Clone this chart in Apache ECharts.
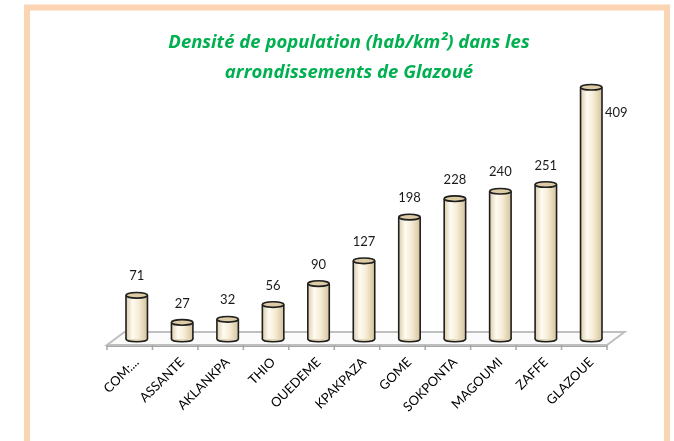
<!DOCTYPE html>
<html>
<head>
<meta charset="utf-8">
<script src="https://cdn.jsdelivr.net/npm/echarts@6/dist/echarts.min.js"></script>
<style>
  html, body { margin: 0; padding: 0; background: #fff; }
  #chart { width: 674px; height: 441px; }
</style>
</head>
<body>
<div id="chart"></div>
<script>
// Arrondissements de Glazoué et densité (hab/km²)
const categories = ['COM:...', 'ASSANTE', 'AKLANKPA', 'THIO', 'OUEDEME', 'KPAKPAZA',
                    'GOME', 'SOKPONTA', 'MAGOUMI', 'ZAFFE', 'GLAZOUE'];
const densities = [71, 27, 32, 56, 90, 127, 198, 228, 240, 251, 409];
const titleLines = ['Densité de population (hab/km²) dans les', 'arrondissements de Glazoué'];
const yMax = 450;

const FONT = 'Lato, "Open Sans", sans-serif';
const TITLE_FONT = '"Open Sans", Lato, sans-serif';
const DEPTH_X = 17.5;   // horizontal depth of the 3D floor
const DEPTH_Y = 13;     // vertical depth of the 3D floor
const SHIFT = 7;        // bars sit halfway into the floor depth

const chart = echarts.init(document.getElementById('chart'), null, { renderer: 'canvas' });

function cylinder(params, api) {
  const i = api.value(0);
  const v = api.value(1);
  const top = api.coord([i, v]);
  const base = api.coord([i, 0]);
  const bw = api.size([1, 0])[0];
  const cx = top[0];
  const rx = bw * 0.236;
  const ry = 2.8;
  const outline = '#1e1e1e';
  const body = new echarts.graphic.LinearGradient(0, 0, 1, 0, [
    { offset: 0, color: '#DCCDAA' },
    { offset: 0.3, color: '#FFFBF2' },
    { offset: 0.6, color: '#F6ECD5' },
    { offset: 1, color: '#D4C39C' }
  ]);
  const children = [
    { type: 'ellipse', shape: { cx: cx, cy: base[1], rx: rx, ry: ry },
      style: { fill: '#E6D9BB', stroke: outline, lineWidth: 1.6 } },
    { type: 'rect', shape: { x: cx - rx, y: top[1], width: rx * 2, height: base[1] - top[1] },
      style: { fill: body } },
    { type: 'line', shape: { x1: cx - rx, y1: top[1], x2: cx - rx, y2: base[1] },
      style: { stroke: outline, lineWidth: 1.6 } },
    { type: 'line', shape: { x1: cx + rx, y1: top[1], x2: cx + rx, y2: base[1] },
      style: { stroke: outline, lineWidth: 1.6 } },
    { type: 'ellipse', shape: { cx: cx, cy: top[1], rx: rx, ry: ry },
      style: { fill: '#DCCBA5', stroke: outline, lineWidth: 1.6 } }
  ];
  // value label: above the cylinder, or beside it when there is no room above
  const roomAbove = top[1] - 30 >= params.coordSys.y;
  children.push({
    type: 'text',
    style: {
      text: String(v),
      x: roomAbove ? cx : cx + rx + 3,
      y: roomAbove ? top[1] - 19 : top[1] + 26,
      align: roomAbove ? 'center' : 'left',
      verticalAlign: 'middle',
      fill: '#1a1a1a',
      font: '13px ' + FONT
    }
  });
  return { type: 'group', children: children };
}

function floor(params, api) {
  const cs = params.coordSys;
  const bw = api.size([1, 0])[0];
  const baseY = api.coord([0, 0])[1];
  const fy = baseY + 6;
  const by = fy - DEPTH_Y;
  const fl = cs.x - SHIFT;
  const fr = fl + bw * categories.length;
  const children = [
    { type: 'polygon',
      shape: { points: [[fl, fy], [fr, fy], [fr + DEPTH_X, by], [fl + DEPTH_X, by]] },
      style: { fill: '#FBFBFB', stroke: '#BFBFBF', lineWidth: 2 } },
    { type: 'line', shape: { x1: fl, y1: fy + 1.5, x2: fr, y2: fy + 1.5 },
      style: { stroke: '#A6A6A6', lineWidth: 1 } }
  ];
  for (let k = 0; k <= categories.length; k++) {
    const x = fl + k * bw;
    children.push({ type: 'line', shape: { x1: x, y1: fy, x2: x, y2: fy + 5 },
      style: { stroke: '#A6A6A6', lineWidth: 1.5 } });
  }
  return { type: 'group', children: children };
}

const titleStyle = {
  fill: '#00B050',
  font: 'italic bold 18.5px ' + TITLE_FONT,
  align: 'center',
  verticalAlign: 'middle'
};

chart.setOption({
  backgroundColor: '#ffffff',
  animation: false,
  graphic: [
    { type: 'text', silent: true, x: 349, y: 43,
      style: Object.assign({ text: titleLines[0] }, titleStyle) },
    { type: 'text', silent: true, x: 349, y: 73,
      style: Object.assign({ text: titleLines[1] }, titleStyle) },
    { type: 'rect', z: 10, silent: true,
      shape: { x: 27, y: 7.5, width: 640, height: 470 },
      style: { fill: 'none', stroke: '#FBD4B4', lineWidth: 6 } }
  ],
  grid: { left: 114, right: 60, top: 62, bottom: 102 },
  xAxis: {
    type: 'category',
    data: categories,
    axisLine: { show: false },
    axisTick: { show: false },
    axisLabel: {
      interval: 0,
      rotate: 45,
      margin: 21,
      color: '#000',
      fontFamily: FONT,
      fontSize: 13
    }
  },
  yAxis: {
    type: 'value',
    min: 0,
    max: yMax,
    show: false,
    splitLine: { show: false }
  },
  series: [
    { type: 'custom', z: 1, renderItem: floor, data: [[0, 0]], silent: true },
    { type: 'custom', z: 2, renderItem: cylinder,
      data: densities.map((v, i) => [i, v]), silent: true }
  ]
});
</script>
</body>
</html>
